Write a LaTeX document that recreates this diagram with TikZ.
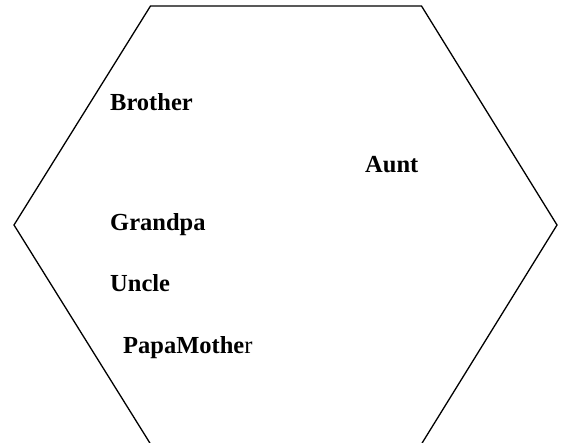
\documentclass[tikz,border=0pt]{standalone}
\usepackage{fontspec}
\setmainfont{Liberation Serif}
\begin{document}
\begin{tikzpicture}[x=1pt,y=1pt,
  lbl/.style={anchor=base west,inner sep=0pt,font=\fontsize{24.5}{28}\selectfont\bfseries}]
\useasboundingbox (0,0) rectangle (568,443);
\begin{scope}
\clip (0,0) rectangle (568,443);
\draw[line width=1.3pt,line join=miter]
  (150.5,437) -- (421.5,437) -- (557,218) -- (421.5,-1) -- (150.5,-1) -- (14,218) -- cycle;
\end{scope}
\node[lbl] (brother) at (110,332) {Brother};
\node[lbl] (aunt) at (365,270) {Aunt};
\node[lbl] (grandpa) at (110,212) {Grandpa};
\node[lbl] (uncle) at (110,151) {Uncle};
\node[lbl] (papamother) at (123,89) {PapaMothe\mdseries r};
\end{tikzpicture}
\end{document}
